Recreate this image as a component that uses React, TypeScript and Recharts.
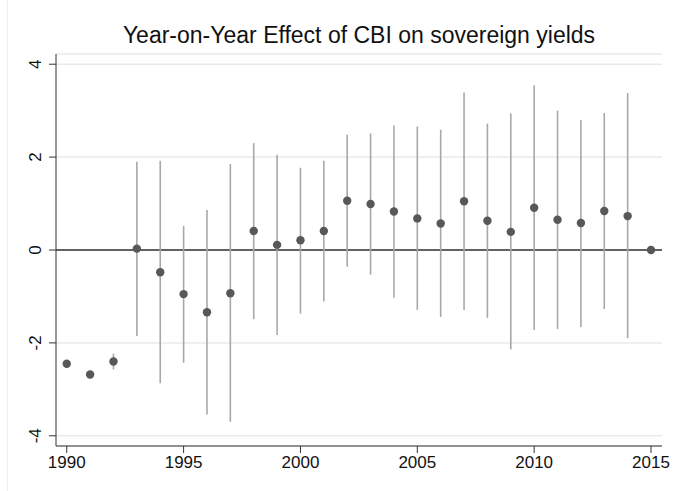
import React from "react";
import {
  ScatterChart,
  Scatter,
  XAxis,
  YAxis,
  CartesianGrid,
  ReferenceLine,
  ErrorBar,
} from "recharts";

// Year-on-year coefficients with 95% confidence bands
const YEARS = [
  1990, 1991, 1992, 1993, 1994, 1995, 1996, 1997, 1998, 1999, 2000, 2001, 2002,
  2003, 2004, 2005, 2006, 2007, 2008, 2009, 2010, 2011, 2012, 2013, 2014, 2015,
];
const ESTIMATES = [
  -2.45, -2.68, -2.4, 0.03, -0.48, -0.95, -1.34, -0.93, 0.41, 0.11, 0.21, 0.41,
  1.06, 0.99, 0.83, 0.68, 0.57, 1.05, 0.63, 0.39, 0.91, 0.65, 0.58, 0.84, 0.73, 0,
];
const CI_LOW = [
  -2.45, -2.68, -2.57, -1.85, -2.87, -2.43, -3.54, -3.7, -1.49, -1.83, -1.37,
  -1.11, -0.36, -0.53, -1.03, -1.29, -1.44, -1.29, -1.46, -2.14, -1.72, -1.7,
  -1.66, -1.27, -1.9, 0,
];
const CI_HIGH = [
  -2.45, -2.68, -2.23, 1.9, 1.92, 0.52, 0.86, 1.85, 2.3, 2.05, 1.77, 1.92, 2.48,
  2.51, 2.68, 2.66, 2.59, 3.39, 2.72, 2.94, 3.54, 3.0, 2.8, 2.95, 3.38, 0,
];
const X_TICKS = [1990, 1995, 2000, 2005, 2010, 2015];
const Y_TICKS = [-4, -2, 0, 2, 4];

const TITLE = "Year-on-Year Effect of CBI on sovereign yields";
const FONT = "'Liberation Sans', Arial, Helvetica, sans-serif";

const data = YEARS.map((year, i) => ({
  year,
  est: ESTIMATES[i],
  err: [ESTIMATES[i] - CI_LOW[i], CI_HIGH[i] - ESTIMATES[i]],
}));

// Stata-style vertical y tick labels
const RotatedTick = (props: any) => {
  const { x, y, payload } = props;
  const bx = x - 6;
  return (
    <text
      x={bx}
      y={y}
      transform={`rotate(-90, ${bx}, ${y})`}
      textAnchor="middle"
      fontSize={17}
      fontFamily={FONT}
      fill="#111"
    >
      {payload.value}
    </text>
  );
};

const Dot = (props: any) => (
  <circle cx={props.cx} cy={props.cy} r={4.2} fill="#585858" />
);

export default function App() {
  return (
    <div
      style={{
        position: "absolute",
        left: 0,
        top: 0,
        width: 675,
        height: 491,
        background: "#fff",
      }}
    >
      <div
        style={{
          position: "absolute",
          left: 7,
          top: 0,
          width: 1,
          height: 491,
          background: "#f0f0f0",
        }}
      />
      <div
        style={{
          position: "absolute",
          left: 0,
          top: 24,
          width: 718,
          textAlign: "center",
          fontFamily: FONT,
          fontSize: 23,
          lineHeight: "23px",
          color: "#111",
          whiteSpace: "nowrap",
        }}
      >
        {TITLE}
      </div>
      <ScatterChart
        width={675}
        height={491}
        margin={{ top: 54, right: 13, bottom: 15, left: 16 }}
      >
        <CartesianGrid
          vertical={false}
          stroke="#eaeaea"
          strokeWidth={1.5}
        />
        <XAxis
          type="number"
          dataKey="year"
          domain={[1989.54, 2015.47]}
          ticks={X_TICKS}
          allowDataOverflow
          height={30}
          tickSize={7}
          tickMargin={3}
          stroke="#333"
          tick={{ fontSize: 17, fontFamily: FONT, fill: "#111" }}
        />
        <YAxis
          type="number"
          dataKey="est"
          domain={[-4.22, 4.22]}
          ticks={Y_TICKS}
          allowDataOverflow
          width={40}
          tickSize={7}
          tickMargin={2}
          stroke="#333"
          tick={<RotatedTick />}
        />
        <ReferenceLine y={0} stroke="#333" strokeWidth={1.4} />
        <Scatter
          data={data}
          shape={<Dot />}
          isAnimationActive={false}
        >
          <ErrorBar
            dataKey="err"
            direction="y"
            width={0}
            stroke="#a8a8a8"
            strokeWidth={1.6}
            isAnimationActive={false}
          />
        </Scatter>
      </ScatterChart>
    </div>
  );
}
